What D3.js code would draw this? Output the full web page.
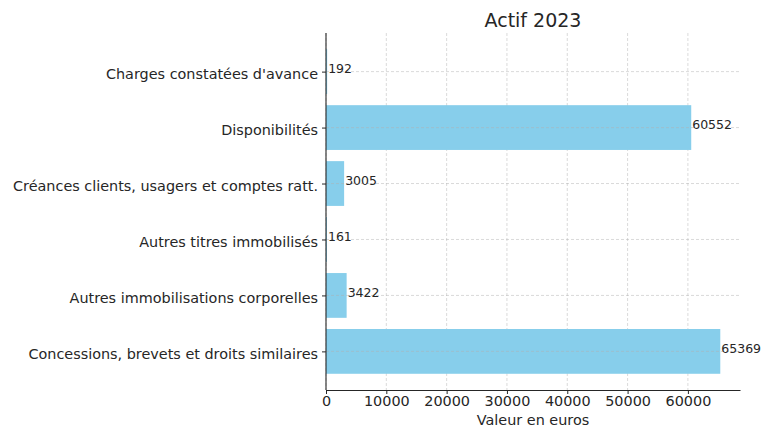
<!DOCTYPE html>
<html><head><meta charset="utf-8">
<script src="https://cdn.jsdelivr.net/npm/d3@7"></script>
<style>body{margin:0;background:#fff}svg{display:block}text{font-family:"DejaVu Sans",sans-serif}</style>
</head><body>
<script>
const categories = ["Concessions, brevets et droits similaires","Autres immobilisations corporelles","Autres titres immobilisés","Créances clients, usagers et comptes ratt.","Disponibilités","Charges constatées d'avance"];
const values = [65369, 3422, 161, 3005, 60552, 192];
const xTicks = [0,10000,20000,30000,40000,50000,60000];
const title = "Actif 2023";
const xLabel = "Valeur en euros";

(function(){
const W=761,H=428;
const mL=326,mR=740,mT=33,mB=390;
const svg=d3.select("body").append("svg").attr("width",W).attr("height",H);
const maxV=d3.max(values);
const x=d3.scaleLinear().domain([0,maxV*1.05]).range([mL,mR]);
const n=categories.length;
const y=d3.scaleLinear().domain([-0.4-0.29,n-1+0.4+0.29]).range([mB,mT]);
const tc="#262626";

const g=svg.append("g");
xTicks.forEach(t=>g.append("line").attr("x1",x(t)).attr("x2",x(t)).attr("y1",mT).attr("y2",mB)
  .attr("stroke","#b0b0b0").attr("stroke-opacity",0.6).attr("stroke-width",0.8).attr("stroke-dasharray","3,2"));
svg.selectAll("rect.bar").data(values).join("rect").attr("class","bar")
  .attr("x",x(0)).attr("y",(d,i)=>y(i+0.4)).attr("width",d=>x(d)-x(0)).attr("height",(d,i)=>y(i-0.4)-y(i+0.4))
  .attr("fill","#87CEEB");
categories.forEach((c,i)=>svg.append("line").attr("x1",mL).attr("x2",mR).attr("y1",y(i)).attr("y2",y(i))
  .attr("stroke","#b0b0b0").attr("stroke-opacity",0.6).attr("stroke-width",0.8).attr("stroke-dasharray","3,2"));
const xa=svg.append("g").attr("transform",`translate(0,${mB})`)
  .call(d3.axisBottom(x).tickValues(xTicks).tickFormat(d3.format("d")).tickSize(4).tickPadding(2).tickSizeOuter(0));
xa.select(".domain").attr("stroke",tc).attr("stroke-width",1.1);
xa.selectAll(".tick line").attr("stroke",tc);
xa.selectAll("text").attr("font-size",14.4).attr("fill",tc).style("font-family","DejaVu Sans");
const ya=svg.append("g").attr("transform",`translate(${mL},0)`)
  .call(d3.axisLeft(y).tickValues(d3.range(n)).tickFormat(i=>categories[i]).tickSize(4).tickPadding(4).tickSizeOuter(0));
ya.select(".domain").attr("stroke",tc).attr("stroke-width",1.1).attr("d",`M0,${mT}V${mB}`);
ya.selectAll(".tick line").attr("stroke",tc);
ya.selectAll("text").attr("font-size",14.4).attr("fill",tc).attr("dy","0.5em").style("font-family","DejaVu Sans");
svg.selectAll("text.val").data(values).join("text").attr("class","val")
  .attr("x",d=>x(d)+1).attr("y",(d,i)=>y(i)).attr("dy","0.12em").attr("font-size",12.5).attr("fill",tc).text(d=>d);
svg.append("text").attr("x",(mL+mR)/2).attr("y",27).attr("text-anchor","middle").attr("font-size",19).attr("fill",tc).text(title);
svg.append("text").attr("x",(mL+mR)/2).attr("y",425).attr("text-anchor","middle").attr("font-size",14.4).attr("fill",tc).text(xLabel);
})();
</script>
</body></html>
